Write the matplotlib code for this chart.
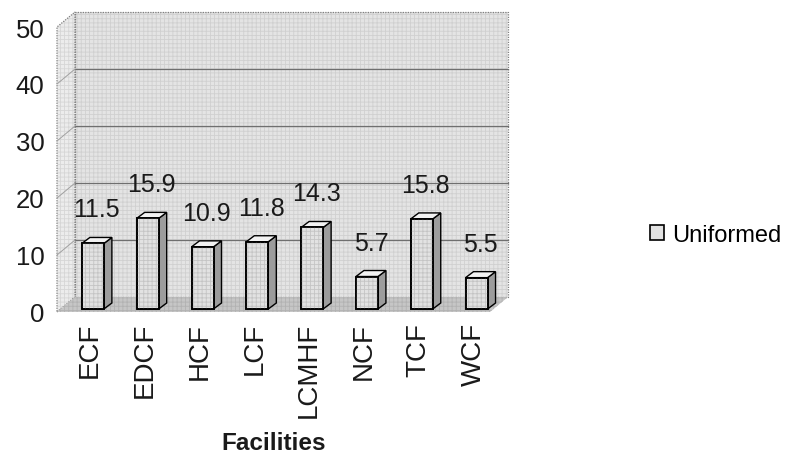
import matplotlib
matplotlib.use("Agg")
import matplotlib.pyplot as plt
from matplotlib.patches import Polygon, Rectangle
import numpy as np

plt.rcParams['font.family'] = ['Liberation Sans', 'DejaVu Sans']
plt.rcParams['hatch.linewidth'] = 0.6

# Data
facilities = ["ECF", "EDCF", "HCF", "LCF", "LCMHF", "NCF", "TCF", "WCF"]
uniformed = [11.5, 15.9, 10.9, 11.8, 14.3, 5.7, 15.8, 5.5]
y_ticks = [0, 10, 20, 30, 40, 50]
series_name = "Uniformed"
x_title = "Facilities"

W, H, DPI = 790, 456, 100
fig = plt.figure(figsize=(W / DPI, H / DPI), dpi=DPI)
fig.patch.set_facecolor("white")

# front plane of the 3-D box, in pixels
left_px, right_px, top_px, bottom_px = 57, 490, 28, 313
ax = fig.add_axes([left_px / W, 1 - bottom_px / H,
                   (right_px - left_px) / W, (bottom_px - top_px) / H])
xmin, xmax = -0.60, 7.30
ymin, ymax = 0, 50
ax.set_xlim(xmin, xmax)
ax.set_ylim(ymin, ymax)
ax.patch.set_visible(False)
for s in ax.spines.values():
    s.set_visible(False)

# pixel -> data unit conversions
ppx = (right_px - left_px) / (xmax - xmin)
ppy = (bottom_px - top_px) / (ymax - ymin)


def dxy(px, py):
    """pixel offset (right, up) expressed in data units"""
    return px / ppx, py / ppy


def textured(verts, face, grain, z, **kw):
    """filled polygon with a fine screen-like grain on top"""
    ax.add_patch(Polygon(verts, closed=True, facecolor=face, edgecolor="none",
                         clip_on=False, zorder=z))
    ax.add_patch(Polygon(verts, closed=True, facecolor="none", edgecolor=grain,
                         linewidth=0, hatch="++++", clip_on=False, zorder=z + 0.01))
    if kw:
        ax.add_patch(Polygon(verts, closed=True, facecolor="none", clip_on=False,
                             zorder=z + 0.02, **kw))


# depth of the box
ddx, ddy = dxy(18, 15)

edge_kw = dict(edgecolor="#808080", linewidth=0.9, linestyle=(0, (1, 1)))

# back wall
textured([(xmin + ddx, ymin + ddy), (xmax + ddx, ymin + ddy),
          (xmax + ddx, ymax + ddy), (xmin + ddx, ymax + ddy)],
         "#e4e4e4", "#d0d0d0", 1, **edge_kw)
# left side wall
textured([(xmin, ymin), (xmin + ddx, ymin + ddy),
          (xmin + ddx, ymax + ddy), (xmin, ymax)],
         "#ececec", "#d6d6d6", 1, **edge_kw)
# floor
textured([(xmin, ymin), (xmax, ymin), (xmax + ddx, ymin + ddy),
          (xmin + ddx, ymin + ddy)],
         "#c6c6c6", "#b2b2b2", 2)

# gridlines on the back and side walls
for v in y_ticks[1:-1]:
    ax.plot([xmin + ddx, xmax + ddx], [v + ddy, v + ddy], color="#6f6f6f",
            linewidth=0.9, clip_on=False, zorder=1.5)
    ax.plot([xmin, xmin + ddx], [v, v + ddy], color="#a0a0a0",
            linewidth=0.7, clip_on=False, zorder=1.5)

# bars: front face via ax.bar, then side and top faces
x = np.arange(len(facilities))
bw = 22 / ppx
sx, sy = dxy(3, 3)        # bars stand slightly into the box
bdx, bdy = dxy(8, 6)      # bar depth
bars = ax.bar(x + sx, uniformed, width=bw, bottom=sy, color="#e2e2e2",
              edgecolor="black", linewidth=1.2, label=series_name, zorder=4)
for xi, v in zip(x + sx, uniformed):
    r = xi + bw / 2
    l = xi - bw / 2
    top = v + sy
    # grain on the front face
    ax.add_patch(Rectangle((l, sy), bw, v, facecolor="none", edgecolor="#c4c4c4",
                           linewidth=0, hatch="++++", zorder=4.01))
    ax.add_patch(Rectangle((l, sy), bw, v, facecolor="none", edgecolor="black",
                           linewidth=1.2, zorder=4.02))
    ax.add_patch(Polygon([(r, sy), (r + bdx, sy + bdy), (r + bdx, top + bdy), (r, top)],
                         closed=True, facecolor="#9c9c9c", edgecolor="black",
                         linewidth=1.0, zorder=3.5, clip_on=False))
    ax.add_patch(Polygon([(l, top), (r, top), (r + bdx, top + bdy), (l + bdx, top + bdy)],
                         closed=True, facecolor="#f2f2f2", edgecolor="black",
                         linewidth=1.0, zorder=3.5, clip_on=False))
    ax.annotate(f"{v:.1f}", xy=(xi + bdx / 2, top), xytext=(0, 34),
                textcoords="offset pixels", ha="center", va="center",
                fontsize=18, color="#1a1a1a", zorder=5)

# axes ticks and labels
ax.set_yticks(y_ticks)
ax.set_yticklabels([str(t) for t in y_ticks], fontsize=18.5, color="#1a1a1a")
ax.tick_params(axis="y", length=0, pad=9)
ax.set_xticks(x)
ax.set_xticklabels(facilities, rotation=90, fontsize=20, color="#1a1a1a", va="top")
ax.tick_params(axis="x", length=0, pad=7)
ax.set_xlabel(x_title, fontsize=17.5, fontweight="bold", color="#1a1a1a", labelpad=10)

fig.legend(handles=[bars], labels=[series_name], loc="center left",
           bbox_to_anchor=(650 / W, 1 - 236 / H), frameon=False, fontsize=17,
           handlelength=0.6, handleheight=0.6, handletextpad=0.35,
           borderpad=0, borderaxespad=0)

fig.savefig("out.png", dpi=DPI, facecolor="white")
